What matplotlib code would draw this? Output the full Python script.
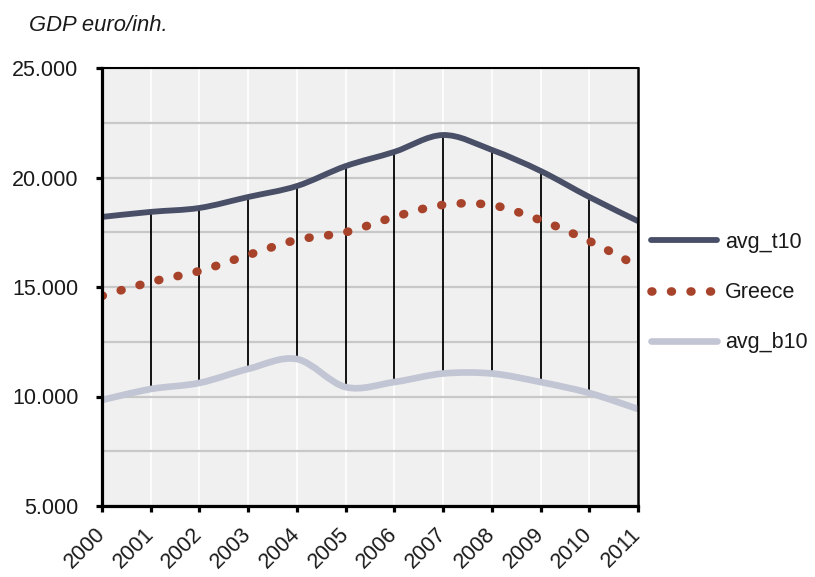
import numpy as np
import matplotlib; matplotlib.use('Agg')
import matplotlib.pyplot as plt
from matplotlib.path import Path
from matplotlib.patches import PathPatch
from matplotlib.lines import Line2D

plt.rcParams['font.family'] = ['Liberation Sans', 'DejaVu Sans']

years = list(range(2000, 2012))
avg_t10 = [18200, 18430, 18610, 19110, 19610, 20520, 21170, 21940, 21260, 20300, 19110, 18010]
greece = [14590, 15230, 15730, 16460, 17150, 17500, 18200, 18750, 18740, 18050, 17100, 15950]
avg_b10 = [9840, 10340, 10620, 11260, 11710, 10430, 10660, 11050, 11050, 10660, 10160, 9430]
yticks = [5000, 10000, 15000, 20000, 25000]
ylabels = ['5.000', '10.000', '15.000', '20.000', '25.000']

C_T10 = '#4a4f68'; C_GR = '#a8432b'; C_B10 = '#c2c6d4'
BG = '#f0f0f0'; GRID = '#c8c8c8'; TX = '#1a1a1a'
DOTS = (0, (0.1, 2.17))


def smooth(x, y):
    # Excel-style smoothed line: cubic bezier through the points
    p = np.column_stack([x, y]).astype(float)
    n = len(p)
    verts = [p[0]]; codes = [Path.MOVETO]
    for i in range(n - 1):
        p0 = p[i - 1] if i > 0 else p[i]
        p3 = p[i + 2] if i + 2 < n else p[i + 1]
        verts += [p[i] + (p[i + 1] - p0) / 6, p[i + 1] - (p3 - p[i]) / 6, p[i + 1]]
        codes += [Path.CURVE4] * 3
    return Path(verts, codes)


fig = plt.figure(figsize=(8.15, 5.77), dpi=100)
ax = fig.add_axes([102 / 815, 1 - 506 / 577, (638 - 102) / 815, (506 - 68) / 577])
ax.set_facecolor(BG)
ax.set_xlim(2000, 2011); ax.set_ylim(5000, 25000)

# grid
ax.set_yticks(yticks); ax.set_yticklabels(ylabels)
ax.set_yticks([7500, 12500, 17500, 22500], minor=True)
ax.set_xticks(years)
ax.set_xticklabels([str(y) for y in years], rotation=45, ha='right', va='center',
                   rotation_mode='anchor')
ax.grid(axis='y', which='both', color=GRID, lw=1.6, zorder=0)
ax.grid(axis='x', color='white', lw=1.2, zorder=0)
ax.set_axisbelow(True)

# high-low lines
ax.vlines(years, avg_b10, avg_t10, color='black', lw=1.3, zorder=2)

ax.add_patch(PathPatch(smooth(years, avg_t10), fc='none', ec=C_T10, lw=4.2,
                       capstyle='round', joinstyle='round', zorder=3))
ax.add_patch(PathPatch(smooth(years, greece), fc='none', ec=C_GR, lw=6.2,
                       capstyle='round', joinstyle='round', ls=DOTS, zorder=3))
ax.add_patch(PathPatch(smooth(years, avg_b10), fc='none', ec=C_B10, lw=4.8,
                       capstyle='round', joinstyle='round', zorder=3))

for s, w in [('left', 2.3), ('bottom', 2.3), ('top', 1.5), ('right', 1.8)]:
    ax.spines[s].set_linewidth(w); ax.spines[s].set_color('black'); ax.spines[s].set_zorder(5)
ax.tick_params(which='major', direction='out', length=4, width=2.3, colors='black',
               labelcolor=TX, labelsize=15.5)
ax.tick_params(axis='y', pad=13)
ax.tick_params(axis='x', pad=14)
ax.tick_params(which='minor', length=0)

fig.text(0.035, 0.955, 'GDP euro/inh.', style='italic', fontsize=15.8, color=TX, va='center')

handles = [Line2D([], [], color=C_T10, lw=4.2, solid_capstyle='round'),
           Line2D([], [], color=C_GR, lw=6.2, ls=DOTS, dash_capstyle='round'),
           Line2D([], [], color=C_B10, lw=4.8, solid_capstyle='round')]
fig.legend(handles, ['avg_t10', 'Greece', 'avg_b10'], loc='center left',
           bbox_to_anchor=(0.775, 0.493), frameon=False, fontsize=15.5, handlelength=3.07,
           handletextpad=0.35, labelspacing=1.35, labelcolor=TX)

plt.savefig('out.png', dpi=100, facecolor='white')
